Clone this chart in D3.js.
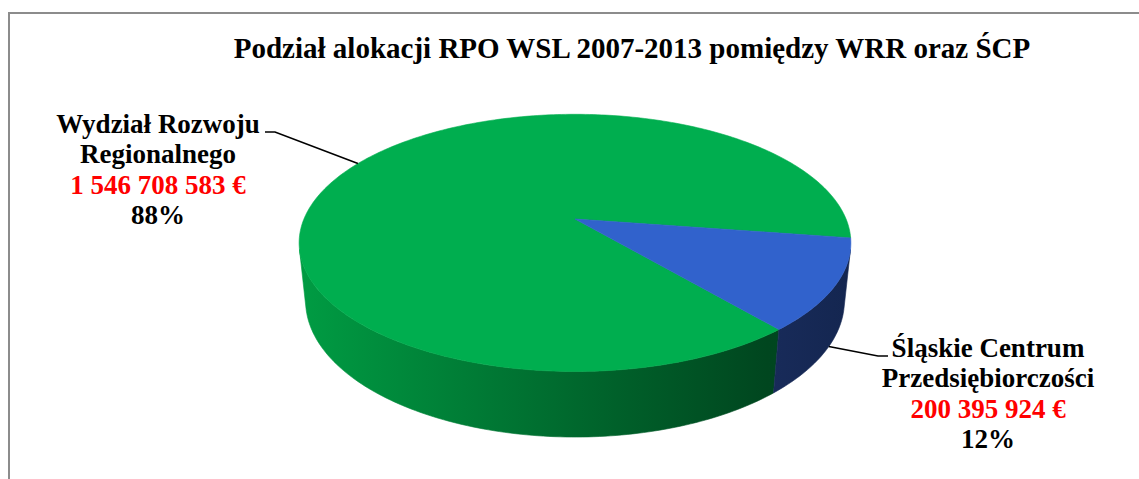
<!DOCTYPE html>
<html>
<head>
<meta charset="utf-8">
<script src="https://cdn.jsdelivr.net/npm/d3@7"></script>
<style>
  body { margin: 0; background: #fff; }
  text { font-family: "Liberation Serif", "Times New Roman", serif; font-weight: bold; }
</style>
</head>
<body>
<div id="chart"></div>
<script>
// data
const categories = ["Wydział Rozwoju Regionalnego", "Śląskie Centrum Przedsiębiorczości"];
const labelLines = [["Wydział Rozwoju", "Regionalnego"], ["Śląskie Centrum", "Przedsiębiorczości"]];
const values = [1546708583, 200395924];
const percentLabels = ["88%", "12%"];
const title = "Podział alokacji RPO WSL 2007-2013 pomiędzy WRR oraz ŚCP";

const topColors = ["#00AE4F", "#3162CC"];

const width = 1139, height = 479;

const svg = d3.select("#chart")
  .append("svg")
  .attr("width", width)
  .attr("height", height);

// chart frame (only the top and left borders are in view)
svg.append("path")
  .attr("d", `M9,${height} V13 H${width}`)
  .attr("fill", "none")
  .attr("stroke", "#8c8c8c")
  .attr("stroke-width", 2);

svg.append("text")
  .attr("x", 632)
  .attr("y", 58)
  .attr("text-anchor", "middle")
  .style("font-size", "29px")
  .text(title);

// 3d pie camera: unit camera distance, tilt phi
const cx = 575, cy = 219;
const R = 0.209, depthH = 0.0507, f = 1297;
const sinP = 0.458, cosP = Math.sqrt(1 - sinP * sinP);

function project(theta, z, r = R) {
  const s = Math.sin(theta), c = Math.cos(theta);
  const depth = 1 + r * s * cosP - z * sinP;
  const yc = r * s * sinP + z * cosP;
  return [cx + f * r * c / depth, cy - f * yc / depth];
}

const pie = d3.pie().sort(null).value(d => d);
const arcs = pie(values);
const rot = -49.8 * Math.PI / 180;
const toTheta = a => rot - a; // d3 angles are clockwise, world theta counter-clockwise

function samples(t0, t1) {
  // from t0 to t1 (either direction), 1 degree steps
  const n = Math.max(2, Math.ceil(Math.abs(t1 - t0) / (Math.PI / 180)));
  return d3.range(n + 1).map(i => t0 + (t1 - t0) * i / n);
}

// side walls, visible where the outward normal faces the camera
const sil = Math.asin(R / cosP);
const visLo = -Math.PI + sil, visHi = -sil;

const defs = svg.append("defs");
const sideStops = [
  [[0, "#009c43"], [0.3, "#007d36"], [0.6, "#005e29"], [0.85, "#00461f"], [1, "#004a21"]],
  [[0, "#1b3066"], [0.85, "#182b5a"], [1, "#142650"]]
];
sideStops.forEach((stops, i) => {
  const g = defs.append("linearGradient")
    .attr("id", "side" + i)
    .attr("gradientUnits", "userSpaceOnUse")
    .attr("x1", 298).attr("x2", 850).attr("y1", 0).attr("y2", 0);
  g.selectAll("stop").data(stops).join("stop")
    .attr("offset", d => d[0])
    .attr("stop-color", d => d[1]);
});

const line = d3.line();

arcs.forEach((d, i) => {
  let hi = toTheta(d.startAngle), lo = toTheta(d.endAngle);
  for (let k = -1; k <= 1; k++) {
    const a = Math.max(lo + k * 2 * Math.PI, visLo);
    const b = Math.min(hi + k * 2 * Math.PI, visHi);
    if (b <= a) continue;
    const ts = samples(a, b);
    const pts = ts.map(t => project(t, 0)).concat(ts.slice().reverse().map(t => project(t, -depthH)));
    svg.append("path")
      .attr("d", line(pts) + "Z")
      .attr("fill", `url(#side${i})`)
      .attr("stroke", `url(#side${i})`)
      .attr("stroke-width", 0.6);
  }
});

// top faces
arcs.forEach((d, i) => {
  const ts = samples(toTheta(d.startAngle), toTheta(d.endAngle));
  const pts = [[cx, cy]].concat(ts.map(t => project(t, 0)));
  svg.append("path")
    .attr("d", line(pts) + "Z")
    .attr("fill", topColors[i])
    .attr("stroke", topColors[i])
    .attr("stroke-width", 0.6);
});

// labels with leader lines
const fmt = d3.formatLocale({ decimal: ",", thousands: " ", grouping: [3], currency: ["", " €"] }).format("$,");
const labelPos = [
  { x: 158, y: 133, elbow: [275, 132], end: [265, 132], z: 0 },
  { x: 988, y: 357, elbow: [878, 356], end: [888, 356], z: -depthH }
];

arcs.forEach((d, i) => {
  const p = labelPos[i];
  const mid = toTheta((d.startAngle + d.endAngle) / 2);
  const start = project(mid, p.z);
  svg.append("path")
    .attr("d", line([start, p.elbow, p.end]))
    .attr("fill", "none")
    .attr("stroke", "#000")
    .attr("stroke-width", 1.6);

  const t = svg.append("text")
    .attr("text-anchor", "middle")
    .style("font-size", "27px");
  const rows = [
    [labelLines[i][0], "#000"],
    [labelLines[i][1], "#000"],
    [fmt(values[i]), "#ff0000"],
    [percentLabels[i], "#000"]
  ];
  rows.forEach((r, j) => {
    t.append("tspan")
      .attr("x", p.x)
      .attr("y", p.y + j * 30.3)
      .attr("fill", r[1])
      .text(r[0]);
  });
});
</script>
</body>
</html>
